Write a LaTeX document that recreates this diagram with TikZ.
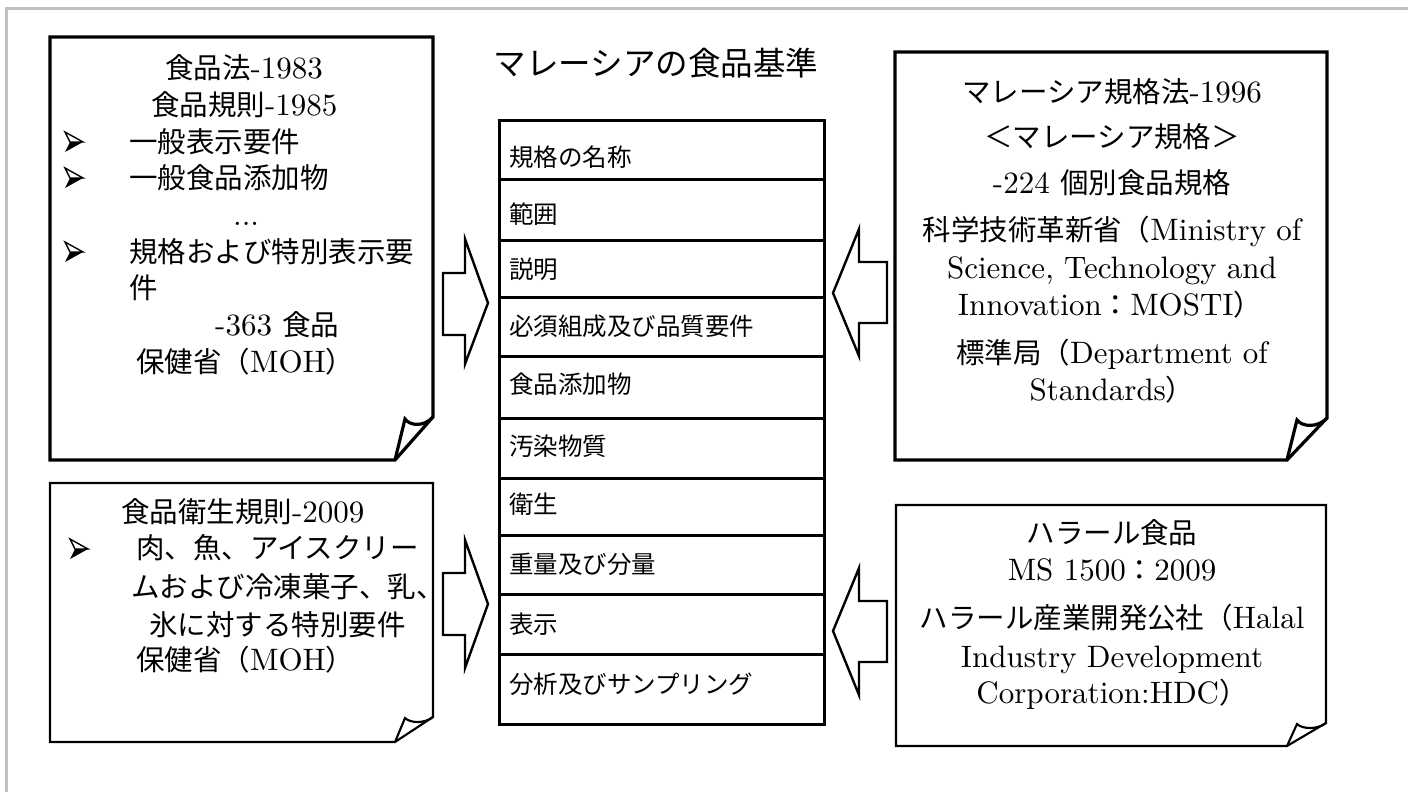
\documentclass[tikz,border=0pt]{standalone}
\usepackage{fontspec}
\setmainfont{lmroman10-regular.otf}
\newfontfamily\cjk{Noto Sans CJK JP}[Scale=0.919]
\newcommand\myjp[1]{{\cjk #1}}
\newcommand\mysizeA{\fontsize{31}{36}\selectfont}
\newcommand\mysizeB{\fontsize{26.66}{31}\selectfont}
\newcommand\mysizeC{\fontsize{35.4}{41}\selectfont}
\tikzset{
  frameline/.style={draw=black!25, line width=3pt},
  docthick/.style={draw=black, line width=3.2pt, line join=miter, fill=white},
  docthin/.style={draw=black, line width=2.1pt, line join=miter, fill=white},
  boxtxt/.style={inner sep=0pt, font=\mysizeA, text height=24pt, text depth=4pt},
  leftline/.style={boxtxt, anchor=west},
  rowtxt/.style={inner sep=0pt, font=\mysizeB, text height=21pt, text depth=3.5pt, anchor=west},
  rowbox/.style={draw, line width=3pt, minimum width=325pt, anchor=north west, inner sep=0pt},
  blockarrow/.style={draw, line width=2.4pt, fill=white, line join=miter},
  bul/.pic={
    \fill (9,0) -- (-4,0) -- (-9,10) -- cycle;
    \draw[line width=1.4pt, line join=miter] (9,0) -- (-9,-10) -- (-4,0) -- cycle;
  }
}
\begin{document}
\begin{tikzpicture}[x=1pt,y=-1pt]
\useasboundingbox (0,0) rectangle (1408,792);
\fill[white] (0,0) rectangle (1408,792);
% outer gray frame
\draw[frameline] (6,792) -- (6,9) -- (1408,9);

% ---------- document boxes ----------
% left top
\draw[docthick] (50,37) -- (433,37) -- (433,417) -- (395,460) -- (50,460) -- cycle;
\draw[docthick, fill=none] (395,460) -- (405,419) .. controls (410,426) and (424,427) .. (433,417);
% left bottom
\draw[docthin] (50,483) -- (433,483) -- (433,717) -- (395,742) -- (50,742) -- cycle;
\draw[docthin, fill=none] (395,742) -- (405,718) .. controls (410,723) and (424,724) .. (433,717);
% right top
\draw[docthick] (895,52) -- (1327,52) -- (1327,418) -- (1287,460) -- (895,460) -- cycle;
\draw[docthick, fill=none] (1287,460) -- (1297,420) .. controls (1302,427) and (1318,428) .. (1327,418);
% right bottom
\draw[docthin] (896,505) -- (1326,505) -- (1326,723) -- (1287,746) -- (896,746) -- cycle;
\draw[docthin, fill=none] (1287,746) -- (1297,724) .. controls (1302,729) and (1317,730) .. (1326,723);

% ---------- title ----------
\node[inner sep=0pt, font=\mysizeC, text height=28pt, text depth=4pt] (title) at (656,63) {\myjp{マレーシアの食品基準}};

% ---------- table ----------
\node[rowbox, minimum height=59pt] (r1) at (498,119) {};
\node[rowbox, minimum height=61pt] (r2) at (498,178) {};
\node[rowbox, minimum height=57pt] (r3) at (498,239) {};
\node[rowbox, minimum height=59pt] (r4) at (498,296) {};
\node[rowbox, minimum height=62pt] (r5) at (498,355) {};
\node[rowbox, minimum height=60pt] (r6) at (498,417) {};
\node[rowbox, minimum height=57pt] (r7) at (498,477) {};
\node[rowbox, minimum height=59pt] (r8) at (498,534) {};
\node[rowbox, minimum height=60pt] (r9) at (498,593) {};
\node[rowbox, minimum height=70pt] (r10) at (498,653) {};

\node[rowtxt] (t1) at (509,158) {\myjp{規格の名称}};
\node[rowtxt] (t2) at (509,215) {\myjp{範囲}};
\node[rowtxt] (t3) at (509,270) {\myjp{説明}};
\node[rowtxt] (t4) at (509,327) {\myjp{必須組成及び品質要件}};
\node[rowtxt] (t5) at (509,385) {\myjp{食品添加物}};
\node[rowtxt] (t6) at (509,447) {\myjp{汚染物質}};
\node[rowtxt] (t7) at (509,505) {\myjp{衛生}};
\node[rowtxt] (t8) at (509,565) {\myjp{重量及び分量}};
\node[rowtxt] (t9) at (509,625) {\myjp{表示}};
\node[rowtxt] (t10) at (509,685) {\myjp{分析及びサンプリング}};

% ---------- block arrows ----------
\draw[blockarrow] (443,273) -- (465,273) -- (465,239) -- (488,303) -- (465,364) -- (465,335) -- (443,335) -- cycle;
\draw[blockarrow] (443,573) -- (465,573) -- (465,540) -- (488,604) -- (465,668) -- (465,635) -- (443,635) -- cycle;
\draw[blockarrow] (887,262) -- (859,262) -- (859,229) -- (833,293) -- (859,356) -- (859,323) -- (887,323) -- cycle;
\draw[blockarrow] (887,601) -- (859,601) -- (859,568) -- (833,631) -- (859,695) -- (859,662) -- (887,662) -- cycle;

% ---------- left top text ----------
\node[leftline] (lt1) at (165,68) {\myjp{食品法}-1983};
\node[leftline] (lt2) at (151,105) {\myjp{食品規則}-1985};
\pic at (74,142) {bul};
\node[leftline] (lt3) at (129,142) {\myjp{一般表示要件}};
\pic at (74,178) {bul};
\node[leftline] (lt4) at (129,178) {\myjp{一般食品添加物}};
\node[leftline] (lt5) at (233,215) {...};
\pic at (74,252) {bul};
\node[leftline] (lt6) at (129,252) {\myjp{規格および特別表示要}};
\node[leftline] (lt7) at (129,288) {\myjp{件}};
\node[leftline] (lt8) at (215,325) {-363 \myjp{食品}};
\node[leftline] (lt9) at (136,362) {\myjp{保健省（}MOH\myjp{）}};

% ---------- left bottom text ----------
\node[leftline] (lb1) at (121,512) {\myjp{食品衛生規則}-2009};
\pic at (79,549) {bul};
\node[leftline] (lb2) at (136,548) {\myjp{肉、魚、アイスクリー}};
\node[leftline] (lb3) at (131,587) {\myjp{ムおよび冷凍菓子、乳、}};
\node[leftline] (lb4) at (149,625) {\myjp{氷に対する特別要件}};
\node[leftline] (lb5) at (136,660) {\myjp{保健省（}MOH\myjp{）}};

% ---------- right top text ----------
\node[boxtxt] (rt1) at (1112,92) {\myjp{マレーシア規格法}-1996};
\node[boxtxt] (rt2) at (1112,137) {\myjp{＜マレーシア規格＞}};
\node[boxtxt] (rt3) at (1112,183) {-224 \myjp{個別食品規格}};
\node[boxtxt] (rt4) at (1112,230) {\myjp{科学技術革新省（}Ministry of};
\node[boxtxt] (rt5) at (1112,268) {Science, Technology and};
\node[boxtxt] (rt6) at (1110,305) {Innovation\myjp{：}MOSTI\myjp{）}};
\node[boxtxt] (rt7) at (1112,353) {\myjp{標準局（}Department of};
\node[boxtxt] (rt8) at (1112,390) {Standards\myjp{）}};

% ---------- right bottom text ----------
\node[boxtxt] (rb1) at (1112,533) {\myjp{ハラール食品}};
\node[boxtxt] (rb2) at (1112,570) {MS 1500\myjp{：}2009};
\node[boxtxt] (rb3) at (1112,618) {\myjp{ハラール産業開発公社（}Halal};
\node[boxtxt] (rb4) at (1112,657) {Industry Development};
\node[boxtxt] (rb5) at (1112,693) {Corporation:HDC\myjp{）}};
\end{tikzpicture}
\end{document}
